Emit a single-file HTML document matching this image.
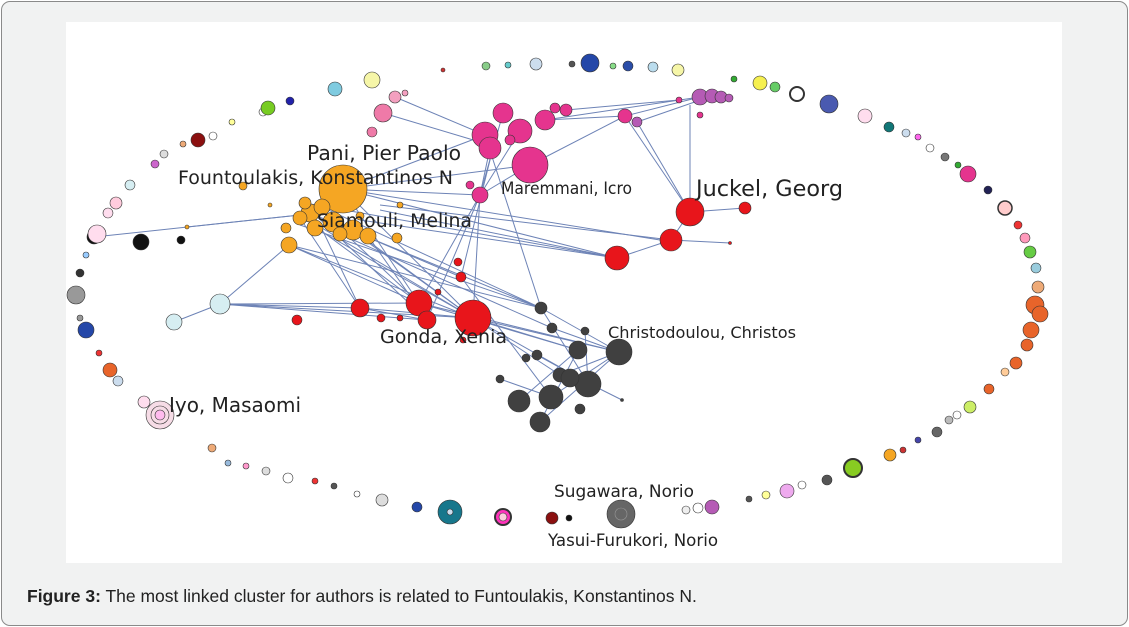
<!DOCTYPE html>
<html><head><meta charset="utf-8"><style>
html,body{margin:0;padding:0;background:#fff;}
.frame{position:absolute;left:1px;top:1px;width:1125px;height:623px;border:1px solid #8a8a8a;border-radius:9px;background:#f1f2f2;}
.cap{position:absolute;left:27px;top:586px;font:17.5px "Liberation Sans",Arial,sans-serif;color:#222;}
svg{position:absolute;left:66px;top:22px;}
svg text{font-family:"DejaVu Sans","Liberation Sans",sans-serif;fill:#222;}
</style></head><body>
<div class="frame"></div>
<svg width="996" height="541" viewBox="66 22 996 541">
<rect x="66" y="22" width="996" height="541" fill="#fff"/>
<g stroke="#3d5a9e" stroke-width="1" opacity="0.75">
<line x1="343" y1="189" x2="473" y2="318"/><line x1="343" y1="189" x2="419" y2="303"/><line x1="330" y1="215" x2="473" y2="318"/>
<line x1="310" y1="210" x2="427" y2="320"/><line x1="300" y1="215" x2="419" y2="303"/><line x1="320" y1="225" x2="360" y2="308"/>
<line x1="289" y1="245" x2="473" y2="318"/><line x1="289" y1="245" x2="419" y2="303"/><line x1="350" y1="230" x2="541" y2="308"/>
<line x1="360" y1="220" x2="617" y2="258"/><line x1="343" y1="189" x2="617" y2="258"/><line x1="380" y1="210" x2="617" y2="258"/>
<line x1="343" y1="189" x2="480" y2="195"/><line x1="343" y1="189" x2="485" y2="135"/><line x1="383" y1="113" x2="490" y2="145"/>
<line x1="480" y1="195" x2="473" y2="318"/><line x1="480" y1="195" x2="419" y2="303"/><line x1="490" y1="160" x2="461" y2="277"/>
<line x1="220" y1="304" x2="289" y2="245"/><line x1="220" y1="304" x2="473" y2="318"/><line x1="220" y1="304" x2="419" y2="303"/><line x1="174" y1="322" x2="220" y2="304"/>
<line x1="94" y1="237" x2="300" y2="215"/><line x1="187" y1="227" x2="300" y2="215"/>
<line x1="473" y1="318" x2="588" y2="383"/><line x1="473" y1="318" x2="619" y2="352"/><line x1="461" y1="277" x2="551" y2="397"/>
<line x1="419" y1="303" x2="578" y2="350"/><line x1="541" y1="308" x2="588" y2="383"/><line x1="541" y1="308" x2="619" y2="352"/>
<line x1="619" y1="352" x2="560" y2="375"/><line x1="619" y1="352" x2="551" y2="397"/><line x1="619" y1="352" x2="540" y2="422"/>
<line x1="578" y1="350" x2="519" y2="401"/><line x1="500" y1="379" x2="551" y2="397"/><line x1="588" y1="383" x2="622" y2="400"/>
<line x1="625" y1="116" x2="690" y2="212"/><line x1="637" y1="122" x2="690" y2="212"/><line x1="690" y1="105" x2="690" y2="212"/>
<line x1="690" y1="212" x2="745" y2="208"/><line x1="690" y1="212" x2="671" y2="240"/><line x1="671" y1="240" x2="617" y2="258"/><line x1="671" y1="240" x2="730" y2="243"/>
<line x1="530" y1="165" x2="625" y2="116"/><line x1="545" y1="120" x2="700" y2="97"/><line x1="637" y1="122" x2="712" y2="96"/>
<line x1="343" y1="189" x2="660" y2="240"/><line x1="300" y1="225" x2="541" y2="308"/><line x1="485" y1="135" x2="541" y2="308"/>
<line x1="315" y1="228" x2="473" y2="318"/><line x1="333" y1="222" x2="419" y2="303"/><line x1="353" y1="230" x2="473" y2="318"/>
<line x1="368" y1="236" x2="427" y2="320"/><line x1="300" y1="218" x2="360" y2="308"/><line x1="310" y1="213" x2="461" y2="277"/>
<line x1="322" y1="207" x2="541" y2="308"/><line x1="340" y1="234" x2="552" y2="328"/><line x1="305" y1="203" x2="617" y2="258"/>
<line x1="289" y1="245" x2="541" y2="308"/><line x1="300" y1="215" x2="473" y2="318"/><line x1="360" y1="308" x2="473" y2="318"/>
<line x1="220" y1="304" x2="360" y2="308"/><line x1="220" y1="304" x2="427" y2="320"/><line x1="360" y1="308" x2="427" y2="320"/>
<line x1="473" y1="318" x2="578" y2="350"/><line x1="473" y1="318" x2="560" y2="375"/><line x1="419" y1="303" x2="619" y2="352"/>
<line x1="480" y1="195" x2="427" y2="320"/><line x1="490" y1="148" x2="480" y2="195"/><line x1="503" y1="113" x2="480" y2="195"/>
<line x1="520" y1="131" x2="480" y2="195"/><line x1="530" y1="165" x2="480" y2="195"/><line x1="395" y1="97" x2="485" y2="135"/>
<line x1="545" y1="120" x2="625" y2="116"/><line x1="566" y1="110" x2="679" y2="100"/><line x1="625" y1="116" x2="700" y2="97"/>
<line x1="343" y1="189" x2="530" y2="165"/><line x1="380" y1="205" x2="671" y2="240"/><line x1="578" y1="350" x2="540" y2="422"/>
<line x1="537" y1="355" x2="588" y2="383"/><line x1="552" y1="328" x2="619" y2="352"/><line x1="585" y1="331" x2="588" y2="384"/>
</g>
<g stroke="#333" stroke-width="0.6">
<g fill="#f5a623">
<circle cx="343" cy="189" r="24"/><circle cx="310" cy="213" r="9"/><circle cx="322" cy="207" r="8"/><circle cx="300" cy="218" r="7"/>
<circle cx="315" cy="228" r="8"/><circle cx="333" cy="222" r="10"/><circle cx="353" cy="230" r="10"/><circle cx="368" cy="236" r="8"/>
<circle cx="340" cy="234" r="7"/><circle cx="289" cy="245" r="8"/><circle cx="286" cy="228" r="5"/><circle cx="243" cy="186" r="4"/>
<circle cx="397" cy="238" r="5"/><circle cx="400" cy="205" r="3"/><circle cx="187" cy="227" r="2"/><circle cx="270" cy="205" r="2"/><circle cx="305" cy="203" r="6"/>
<circle cx="360" cy="216" r="4"/>
</g>
<g fill="#e5348e">
<circle cx="530" cy="165" r="18"/><circle cx="485" cy="135" r="13"/><circle cx="490" cy="148" r="11"/><circle cx="520" cy="131" r="12"/>
<circle cx="503" cy="113" r="10"/><circle cx="545" cy="120" r="10"/><circle cx="480" cy="195" r="8"/><circle cx="566" cy="110" r="6"/>
<circle cx="555" cy="108" r="5"/><circle cx="625" cy="116" r="7"/><circle cx="470" cy="185" r="4"/><circle cx="510" cy="140" r="5"/>
<circle cx="679" cy="100" r="3"/><circle cx="700" cy="115" r="3"/>
</g>
<circle cx="383" cy="113" r="9" fill="#ef7aa8"/><circle cx="372" cy="132" r="5" fill="#ef7aa8"/><circle cx="395" cy="97" r="6" fill="#f3a0bf"/><circle cx="405" cy="93" r="3" fill="#f3a0bf"/>
<g fill="#b55bb5"><circle cx="637" cy="122" r="5"/><circle cx="700" cy="97" r="8"/><circle cx="712" cy="96" r="7"/><circle cx="721" cy="97" r="6"/><circle cx="729" cy="98" r="4"/></g>
<g fill="#e8151b">
<circle cx="690" cy="212" r="14"/><circle cx="745" cy="208" r="6"/><circle cx="671" cy="240" r="11"/><circle cx="617" cy="258" r="12"/>
<circle cx="473" cy="318" r="18"/><circle cx="419" cy="303" r="13"/><circle cx="427" cy="320" r="9"/><circle cx="360" cy="308" r="9"/>
<circle cx="297" cy="320" r="5"/><circle cx="461" cy="277" r="5"/><circle cx="438" cy="292" r="3"/><circle cx="381" cy="318" r="4"/>
<circle cx="400" cy="318" r="3"/><circle cx="458" cy="262" r="4"/><circle cx="463" cy="340" r="3"/><circle cx="730" cy="243" r="1.5"/>
</g>
<circle cx="220" cy="304" r="10" fill="#d6eef2"/><circle cx="174" cy="322" r="8" fill="#d6eef2"/>
<g fill="#404040">
<circle cx="541" cy="308" r="6"/><circle cx="619" cy="352" r="13"/><circle cx="578" cy="350" r="9"/><circle cx="552" cy="328" r="5"/>
<circle cx="560" cy="375" r="7"/><circle cx="588" cy="384" r="13"/><circle cx="570" cy="378" r="9"/><circle cx="551" cy="397" r="12"/>
<circle cx="519" cy="401" r="11"/><circle cx="540" cy="422" r="10"/><circle cx="580" cy="409" r="5"/><circle cx="537" cy="355" r="5"/>
<circle cx="526" cy="358" r="4"/><circle cx="500" cy="379" r="4"/><circle cx="585" cy="331" r="4"/><circle cx="622" cy="400" r="1.5"/>
</g>
<g fill="#111"><circle cx="94" cy="237" r="7"/><circle cx="141" cy="242" r="8"/><circle cx="181" cy="240" r="4"/></g>
<circle cx="372" cy="80" r="8" fill="#f6f6a8"/><circle cx="335" cy="89" r="7" fill="#7fcbe0"/><circle cx="443" cy="70" r="2" fill="#c33"/>
<circle cx="486" cy="66" r="4" fill="#8c8"/><circle cx="508" cy="65" r="3" fill="#6cc"/><circle cx="536" cy="64" r="6" fill="#cde"/>
<circle cx="572" cy="64" r="3" fill="#555"/><circle cx="590" cy="63" r="9" fill="#2447a8"/><circle cx="613" cy="66" r="3" fill="#8d8"/>
<circle cx="628" cy="66" r="5" fill="#2a4da8"/><circle cx="653" cy="67" r="5" fill="#bde"/><circle cx="678" cy="70" r="6" fill="#f6f6a8"/>
<circle cx="734" cy="79" r="3" fill="#3a3"/><circle cx="760" cy="83" r="7" fill="#f6f050"/><circle cx="775" cy="87" r="5" fill="#6c6"/>
<circle cx="797" cy="94" r="7" fill="#fff" stroke-width="2"/><circle cx="829" cy="104" r="9" fill="#4a5ab0"/><circle cx="865" cy="116" r="7" fill="#fde"/>
<circle cx="889" cy="127" r="5" fill="#177"/><circle cx="906" cy="133" r="4" fill="#cde"/><circle cx="918" cy="137" r="3" fill="#f6e"/>
<circle cx="930" cy="148" r="4" fill="#fff"/><circle cx="945" cy="157" r="4" fill="#777"/><circle cx="958" cy="165" r="3" fill="#3a3"/>
<circle cx="968" cy="174" r="8" fill="#e5348e"/><circle cx="988" cy="190" r="4" fill="#225"/><circle cx="1005" cy="208" r="7" fill="#fcc" stroke-width="1.5"/>
<circle cx="1018" cy="225" r="4" fill="#e33"/><circle cx="1025" cy="238" r="5" fill="#f9b"/><circle cx="1030" cy="252" r="6" fill="#6c4"/>
<circle cx="1036" cy="268" r="5" fill="#9cd"/><circle cx="1038" cy="287" r="6" fill="#ea7"/><circle cx="1035" cy="305" r="9" fill="#e8642a"/>
<circle cx="1040" cy="314" r="8" fill="#e8642a"/><circle cx="1031" cy="330" r="8" fill="#e8642a"/><circle cx="1027" cy="345" r="6" fill="#e8642a"/>
<circle cx="1016" cy="363" r="6" fill="#e8642a"/><circle cx="1005" cy="372" r="4" fill="#fc9"/><circle cx="989" cy="389" r="5" fill="#e8642a"/>
<circle cx="970" cy="407" r="6" fill="#ce6"/><circle cx="957" cy="415" r="4" fill="#fff"/><circle cx="949" cy="420" r="4" fill="#bbb"/><circle cx="937" cy="432" r="5" fill="#666"/>
<circle cx="918" cy="440" r="3" fill="#44a"/><circle cx="903" cy="450" r="3" fill="#c33"/><circle cx="890" cy="455" r="6" fill="#f5a623"/>
<circle cx="853" cy="468" r="9" fill="#8c2" stroke-width="2"/><circle cx="827" cy="480" r="5" fill="#555"/><circle cx="802" cy="485" r="4" fill="#fff"/>
<circle cx="787" cy="491" r="7" fill="#eae"/><circle cx="766" cy="495" r="4" fill="#ff9"/><circle cx="749" cy="499" r="3" fill="#555"/>
<circle cx="712" cy="507" r="7" fill="#b55bb5"/><circle cx="698" cy="508" r="5" fill="#fff"/><circle cx="686" cy="510" r="4" fill="#eee"/>
<circle cx="621" cy="514" r="14" fill="#666"/><circle cx="621" cy="514" r="6" fill="none" stroke="#999"/><circle cx="569" cy="518" r="3" fill="#111"/>
<circle cx="552" cy="518" r="6" fill="#8b1010"/><circle cx="503" cy="517" r="8" fill="#f3b" stroke-width="2"/><circle cx="503" cy="517" r="4" fill="#fcd"/>
<circle cx="450" cy="512" r="12" fill="#17778c"/><circle cx="450" cy="512" r="3" fill="#cde"/><circle cx="417" cy="507" r="5" fill="#2447a8"/>
<circle cx="382" cy="500" r="6" fill="#ddd"/><circle cx="357" cy="494" r="3" fill="#fff"/><circle cx="334" cy="486" r="3" fill="#555"/>
<circle cx="315" cy="481" r="3" fill="#e33"/><circle cx="288" cy="478" r="5" fill="#fff"/><circle cx="266" cy="471" r="4" fill="#ddd"/>
<circle cx="246" cy="466" r="3" fill="#f9c"/><circle cx="228" cy="463" r="3" fill="#9bd"/><circle cx="212" cy="448" r="4" fill="#ea7"/>
<circle cx="160" cy="415" r="14" fill="#f6dce6"/><circle cx="160" cy="415" r="9" fill="none"/><circle cx="160" cy="415" r="5" fill="#fbe"/>
<circle cx="144" cy="402" r="6" fill="#fde"/><circle cx="118" cy="381" r="5" fill="#cde"/><circle cx="110" cy="370" r="7" fill="#e8642a"/>
<circle cx="99" cy="353" r="3" fill="#e33"/><circle cx="86" cy="330" r="8" fill="#2447a8"/><circle cx="80" cy="318" r="3" fill="#999"/>
<circle cx="76" cy="295" r="9" fill="#999"/><circle cx="80" cy="273" r="4" fill="#333"/><circle cx="86" cy="255" r="3" fill="#9cf"/>
<circle cx="97" cy="234" r="9" fill="#fde"/><circle cx="108" cy="213" r="5" fill="#fde"/><circle cx="116" cy="203" r="6" fill="#fcd"/>
<circle cx="130" cy="185" r="5" fill="#d6eef2"/><circle cx="155" cy="164" r="4" fill="#c6c"/><circle cx="164" cy="154" r="4" fill="#ddd"/>
<circle cx="183" cy="144" r="3" fill="#ea7"/><circle cx="198" cy="140" r="7" fill="#8b1010"/><circle cx="213" cy="136" r="4" fill="#fff"/>
<circle cx="232" cy="122" r="3" fill="#ff9"/><circle cx="263" cy="112" r="4" fill="#fff"/><circle cx="268" cy="108" r="7" fill="#7c2"/><circle cx="290" cy="101" r="4" fill="#22a"/>
</g>
<text x="307" y="160" font-size="20.3">Pani, Pier Paolo</text>
<text x="178" y="184" font-size="18.5" textLength="275" lengthAdjust="spacingAndGlyphs">Fountoulakis, Konstantinos N</text>
<text x="317" y="227" font-size="18.5" textLength="155" lengthAdjust="spacingAndGlyphs">Siamouli, Melina</text>
<text x="501" y="194" font-size="16.5" textLength="131" lengthAdjust="spacingAndGlyphs">Maremmani, Icro</text>
<text x="696" y="196" font-size="22.4" textLength="147" lengthAdjust="spacingAndGlyphs">Juckel, Georg</text>
<text x="380" y="343" font-size="19" textLength="127" lengthAdjust="spacingAndGlyphs">Gonda, Xenia</text>
<text x="608" y="338" font-size="16" textLength="188" lengthAdjust="spacingAndGlyphs">Christodoulou, Christos</text>
<text x="169" y="412" font-size="20" textLength="132" lengthAdjust="spacingAndGlyphs">Iyo, Masaomi</text>
<text x="554" y="497" font-size="16.5" textLength="140" lengthAdjust="spacingAndGlyphs">Sugawara, Norio</text>
<text x="548" y="546" font-size="16.5" textLength="170" lengthAdjust="spacingAndGlyphs">Yasui-Furukori, Norio</text>
</svg>
<div class="cap"><b>Figure 3:</b> The most linked cluster for authors is related to Funtoulakis, Konstantinos N.</div>
</body></html>
